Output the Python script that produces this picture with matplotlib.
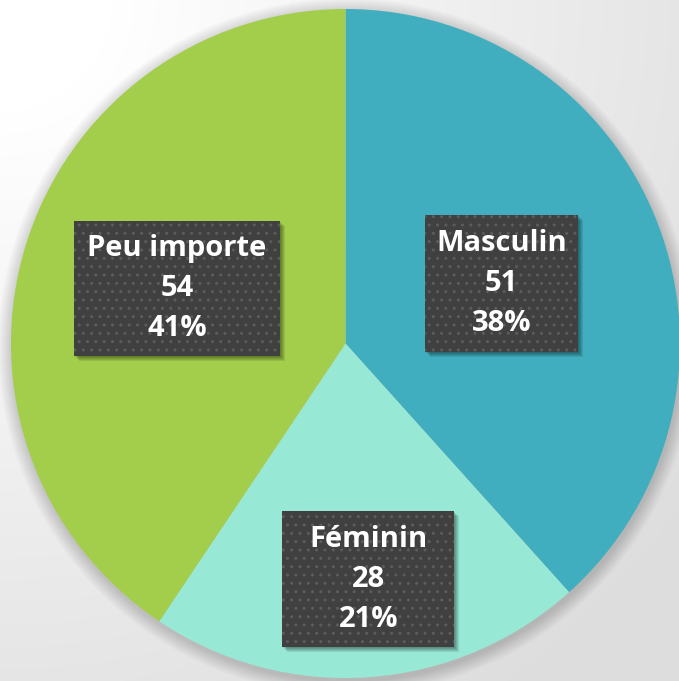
import numpy as np
import matplotlib
matplotlib.use('Agg')
import matplotlib.pyplot as plt
from matplotlib.patches import Circle, Rectangle

labels = ['Masculin', 'Féminin', 'Peu importe']
counts = [51, 28, 54]
percents = ['38%', '21%', '41%']
colors = ['#40aebe', '#98e8d6', '#a3ce4b']
label_dist = [0.5, 0.71, 0.53]
label_nudge = [(0, 0), (6, 1), (1, 3)]
box_w = [153, 172, 206]
box_h = [137, 136, 135]

W, H = 679, 681
fig = plt.figure(figsize=(W / 100, H / 100), dpi=100)
ax = fig.add_axes([0, 0, 1, 1])

# background: soft radial gradient, white top-left to grey bottom-right
yy, xx = np.mgrid[0:H, 0:W]
d = np.sqrt(xx ** 2 + yy ** 2) / np.sqrt(W ** 2 + H ** 2)
bg = 1.0 - 0.13 * np.clip(d * 1.3 - 0.15, 0, 1)
ax.imshow(np.dstack([bg, bg, bg]), extent=(0, W, 0, H), origin='upper', zorder=0)

cx, cy, r = 345.5, H - 343.5, 334.5

# soft shadow under the pie
for i in range(14):
    ax.add_patch(Circle((cx + 1, cy - 3), r + 14 - i, color='black', alpha=0.012, lw=0, zorder=1))

ax.pie(counts, colors=colors, startangle=90, counterclock=False,
       center=(cx, cy), radius=r, frame=True,
       wedgeprops=dict(linewidth=0, zorder=2))
ax.set_xlim(0, W)
ax.set_ylim(0, H)
ax.set_aspect('equal')
ax.axis('off')

total = sum(counts)
start = 90.0
for lab, n, p, ld, (nx, ny), bw, bh in zip(labels, counts, percents, label_dist,
                                            label_nudge, box_w, box_h):
    sweep = 360.0 * n / total
    mid = np.deg2rad(start - sweep / 2)
    start -= sweep
    x = cx + ld * r * np.cos(mid) + nx
    y = cy + ld * r * np.sin(mid) + ny
    # blurred drop shadow
    for k in range(5):
        ax.add_patch(Rectangle((x - bw / 2 + 5 - k, y - bh / 2 - 5 + k), bw, bh,
                               facecolor='black', alpha=0.09, lw=0, zorder=3))
    ax.add_patch(Rectangle((x - bw / 2, y - bh / 2), bw, bh, facecolor='#404040',
                           lw=0, zorder=4))
    ax.add_patch(Rectangle((x - bw / 2, y - bh / 2), bw, bh, facecolor='none',
                           edgecolor='#5c5c5c', lw=0, hatch='..', zorder=4.5))
    ax.text(x, y, f'{lab}\n{n}\n{p}', ha='center', va='center', color='white',
            fontsize=21, fontweight='bold', family=['Open Sans', 'DejaVu Sans'],
            linespacing=1.5, zorder=5)

fig.savefig('out.png', dpi=100)
